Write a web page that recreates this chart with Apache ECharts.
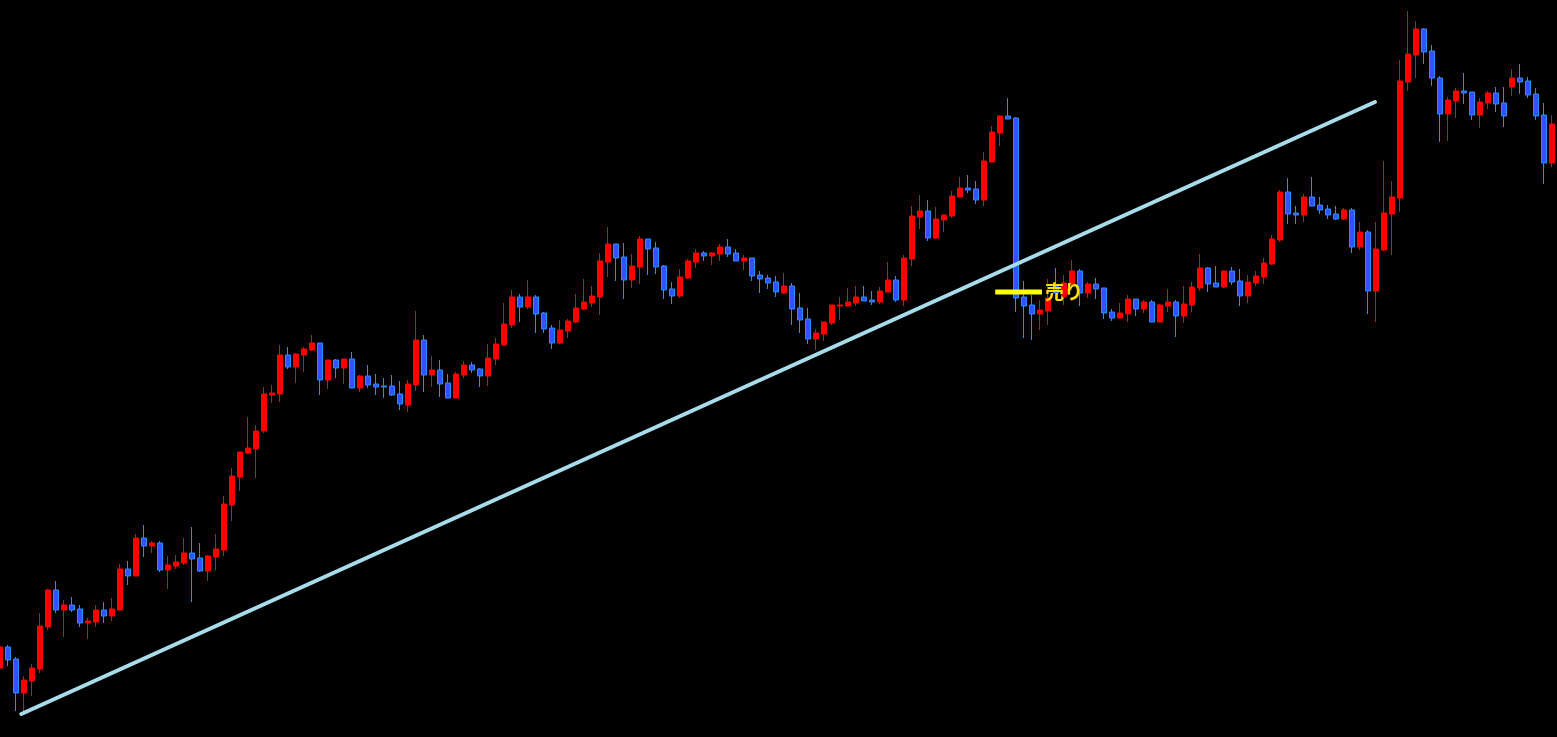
<!DOCTYPE html>
<html>
<head>
<meta charset="utf-8">
<script src="https://cdn.jsdelivr.net/npm/echarts@6/dist/echarts.min.js"></script>
<style>
html,body{margin:0;padding:0;background:#000;overflow:hidden;width:1557px;height:737px;}
#chart{position:absolute;left:-4px;top:0;width:1561px;height:737px;}
</style>
</head>
<body>
<div id="chart"></div>
<script>
// OHLC prices (bar 0 .. bar 194)
const opens = [143.32,143.53,143.41,143.07,143.19,143.31,143.73,144.10,143.90,143.95,
143.91,143.77,143.78,143.90,143.84,143.90,144.31,144.24,144.62,144.54,
144.57,144.30,144.34,144.37,144.47,144.42,144.29,144.43,144.50,144.95,
145.23,145.47,145.51,145.69,146.05,146.06,146.45,146.33,146.45,146.50,
146.57,146.20,146.40,146.32,146.41,146.12,146.24,146.16,146.14,146.14,
146.06,145.95,146.15,146.60,146.25,146.30,146.17,146.02,146.25,146.35,
146.31,146.24,146.41,146.55,146.75,147.03,146.93,147.03,146.87,146.72,
146.57,146.69,146.78,146.91,146.97,147.03,147.38,147.56,147.43,147.20,
147.33,147.61,147.52,147.34,147.11,147.04,147.22,147.38,147.47,147.44,
147.46,147.53,147.47,147.39,147.42,147.25,147.22,147.18,147.07,147.14,
146.92,146.81,146.61,146.66,146.77,146.94,146.94,146.97,147.03,147.00,
146.98,147.08,147.20,147.00,147.41,147.83,147.89,147.62,147.80,147.84,
148.03,148.12,148.11,148.00,148.38,148.67,148.84,148.82,147.03,146.95,
146.86,146.89,147.15,147.03,147.16,147.29,147.07,147.16,147.12,146.88,
146.82,146.86,147.01,146.91,146.98,146.78,146.94,146.98,146.84,146.95,
147.12,147.32,147.17,147.13,147.29,147.19,147.04,147.17,147.23,147.36,
147.60,148.08,147.87,147.85,148.03,147.95,147.91,147.86,147.81,147.90,
147.53,147.68,147.09,147.50,147.86,148.02,149.18,149.45,149.71,149.49,
149.22,148.86,148.99,149.09,149.08,148.85,148.97,149.07,148.97,149.13,
149.22,149.19,149.06,148.85,148.37];
const closes = [143.53,143.40,143.07,143.20,143.32,143.74,144.10,143.90,143.95,143.90,
143.77,143.79,143.90,143.84,143.91,144.31,144.24,144.62,144.54,144.57,
144.30,144.35,144.38,144.47,144.41,144.29,144.44,144.51,144.96,145.24,
145.48,145.52,145.69,146.06,146.07,146.45,146.33,146.46,146.51,146.57,
146.20,146.40,146.32,146.41,146.12,146.24,146.15,146.13,146.13,146.05,
145.96,146.16,146.60,146.25,146.30,146.16,146.02,146.26,146.35,146.30,
146.24,146.42,146.56,146.76,147.03,146.93,147.03,146.86,146.71,146.57,
146.70,146.79,146.92,146.98,147.04,147.39,147.56,147.42,147.20,147.34,
147.61,147.51,147.33,147.10,147.04,147.23,147.39,147.47,147.44,147.47,
147.53,147.46,147.39,147.42,147.24,147.21,147.17,147.08,147.14,146.91,
146.80,146.61,146.67,146.78,146.95,146.95,146.98,147.03,146.99,146.98,
147.09,147.20,147.00,147.42,147.84,147.89,147.62,147.81,147.85,148.04,
148.12,148.10,148.00,148.39,148.68,148.84,148.81,147.02,146.94,146.86,
146.90,147.02,147.07,147.17,147.29,147.07,147.16,147.11,146.87,146.82,
146.87,147.01,146.91,146.98,146.78,146.95,146.98,146.84,146.96,147.13,
147.32,147.16,147.13,147.29,147.18,147.04,147.18,147.24,147.37,147.61,
148.08,147.86,147.85,148.03,147.94,147.90,147.85,147.81,147.90,147.53,
147.68,147.09,147.51,147.87,148.03,149.19,149.46,149.71,149.48,149.22,
148.86,149.00,149.09,149.07,148.85,148.98,149.07,148.96,148.84,149.22,
149.18,149.05,148.84,148.37,148.76];
const lows = [143.28,143.34,142.89,142.88,143.04,143.27,143.70,143.87,143.63,143.88,
143.73,143.61,143.73,143.77,143.79,143.90,144.15,144.24,144.43,144.47,
144.28,144.11,144.31,144.35,143.98,144.28,144.19,144.30,144.44,144.79,
145.09,145.46,145.22,145.67,145.97,145.98,146.31,146.17,146.28,146.49,
146.05,146.11,146.22,146.16,146.12,146.08,146.12,146.05,146.02,146.04,
145.90,145.88,146.09,146.08,146.13,146.03,146.02,146.02,146.22,146.27,
146.13,146.14,146.35,146.55,146.72,146.78,146.91,146.67,146.67,146.51,
146.56,146.62,146.77,146.90,146.93,146.85,147.23,147.19,147.01,147.12,
147.16,147.25,147.26,147.01,146.96,147.02,147.21,147.32,147.39,147.35,
147.39,147.43,147.39,147.30,147.19,147.07,147.11,147.03,147.06,146.75,
146.67,146.56,146.50,146.59,146.75,146.80,146.94,146.94,146.99,146.95,
146.96,147.08,146.98,146.94,147.34,147.71,147.59,147.61,147.68,147.82,
148.03,148.07,147.96,147.94,148.38,148.54,148.81,146.88,146.62,146.60,
146.70,146.75,147.00,146.95,147.10,146.94,147.02,147.01,146.81,146.79,
146.82,146.78,146.84,146.87,146.78,146.78,146.88,146.63,146.77,146.88,
147.09,147.08,147.13,147.12,147.15,146.94,146.97,147.14,147.16,147.35,
147.58,147.76,147.76,147.78,147.94,147.86,147.81,147.80,147.80,147.47,
147.50,146.86,146.78,147.49,147.45,147.88,149.09,149.22,149.36,149.14,
148.58,148.59,148.82,148.96,148.80,148.72,148.91,148.88,148.73,149.04,
149.06,149.02,148.80,148.16,148.33];
const highs = [143.56,143.55,143.43,143.24,143.36,143.87,144.11,144.19,144.00,144.03,
143.95,143.82,143.95,143.98,144.02,144.36,144.39,144.66,144.75,144.59,
144.59,144.44,144.45,144.62,144.73,144.57,144.45,144.66,145.04,145.32,
145.48,145.83,145.75,146.13,146.15,146.55,146.53,146.47,146.53,146.65,
146.57,146.40,146.41,146.41,146.48,146.25,146.35,146.26,146.22,146.25,
146.19,146.20,146.89,146.65,146.44,146.40,146.26,146.28,146.39,146.38,
146.32,146.56,146.62,146.97,147.10,147.06,147.20,147.05,146.88,146.75,
146.80,146.81,147.06,147.21,147.14,147.47,147.73,147.56,147.57,147.46,
147.64,147.61,147.58,147.35,147.18,147.31,147.41,147.51,147.49,147.48,
147.56,147.61,147.51,147.45,147.42,147.29,147.25,147.24,147.27,147.17,
147.07,146.92,146.71,146.78,146.95,147.03,147.12,147.14,147.14,147.09,
147.13,147.38,147.24,147.45,147.94,148.05,148.00,147.93,147.85,148.09,
148.23,148.25,148.19,148.48,148.74,148.85,149.02,148.83,147.19,147.05,
147.00,147.21,147.32,147.25,147.40,147.31,147.18,147.22,147.12,146.91,
146.97,147.05,147.01,147.00,147.00,146.96,147.11,147.00,147.14,147.18,
147.46,147.33,147.34,147.29,147.33,147.31,147.25,147.29,147.42,147.65,
148.10,148.22,147.94,148.06,148.23,148.03,147.95,147.94,147.92,147.92,
147.78,147.70,147.78,148.39,148.19,149.40,149.89,149.79,149.72,149.55,
149.24,149.03,149.12,149.27,149.08,149.02,149.09,149.13,149.13,149.31,
149.36,149.23,149.12,148.97,148.85];

// Support trend line endpoints [bar position, price]
const trendLine = [[2.66, 142.86], [171.875, 148.98]];
// Sell marker segment [bar position, price] and its text
const sellLine = [[124.4, 147.08], [130.25, 147.08]];
const sellText = '売り';

const categories = opens.map((_, i) => String(i));
const ohlc = opens.map((o, i) => [o, closes[i], lows[i], highs[i]]);

const chart = echarts.init(document.getElementById('chart'));
chart.setOption({
  backgroundColor: '#000000',
  animation: false,
  grid: { left: 0, width: 1560, top: 0, bottom: 0 },
  xAxis: [
    { type: 'category', data: categories, show: false, boundaryGap: true },
    { type: 'value', min: -0.5, max: 194.5, show: false }
  ],
  yAxis: { type: 'value', min: 142.63, max: 150.00, show: false, splitLine: { show: false } },
  series: [
    {
      type: 'candlestick',
      data: ohlc,
      barWidth: 5,
      itemStyle: {
        color: '#ff0000',
        color0: '#3550ff',
        borderColor: '#ff0000',
        borderColor0: '#2a8cff',
        borderWidth: 1
      }
    },
    {
      type: 'line',
      xAxisIndex: 1,
      data: trendLine,
      symbol: 'none',
      lineStyle: { color: '#a8dcea', width: 4, cap: 'round' },
      z: 5
    },
    {
      type: 'line',
      xAxisIndex: 1,
      data: sellLine,
      symbol: 'none',
      lineStyle: { color: '#ffff00', width: 5 },
      endLabel: {
        show: true,
        formatter: sellText,
        color: '#ffe000',
        fontSize: 19,
        fontWeight: 'bold',
        fontFamily: 'Noto Sans CJK JP',
        distance: 3
      },
      z: 6
    }
  ]
});
</script>
</body>
</html>
